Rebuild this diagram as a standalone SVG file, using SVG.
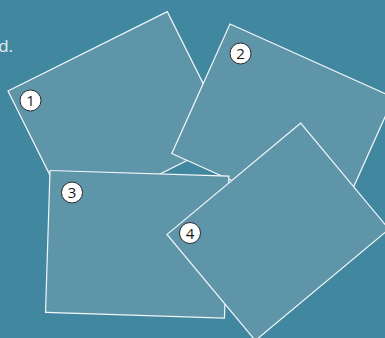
<svg xmlns="http://www.w3.org/2000/svg" width="385" height="338" viewBox="0 0 385 338">
<style>
.card{fill:#5f95a9;stroke:#f2f7f9;stroke-width:1.2}
.badge circle{fill:#ffffff;stroke:#2a2a2a;stroke-width:1}
.badge text{font-family:"Open Sans","DejaVu Sans",sans-serif;font-size:15px;fill:#1a1a1a;text-anchor:middle}
.caption{font-family:"Open Sans","DejaVu Sans",sans-serif;font-size:17px;fill:#e3edf1;text-anchor:end}
</style>
<rect width="385" height="338" fill="#40879f"/>
<text class="caption" x="13" y="52">d.</text>
<g id="card1">
  <rect class="card" x="0" y="0" width="178" height="142" transform="translate(8,91) rotate(-26.5)"/>
  <g class="badge"><circle cx="30.5" cy="100.5" r="10.5"/><text x="30.5" y="106">1</text></g>
</g>
<g id="card2">
  <rect class="card" x="0" y="0" width="179.5" height="142" transform="translate(230,24) rotate(24.2)"/>
  <g class="badge"><circle cx="240.5" cy="53.5" r="10.5"/><text x="240.5" y="59">2</text></g>
</g>
<g id="card3">
  <rect class="card" x="0" y="0" width="179" height="142" transform="translate(50,170.5) rotate(1.8)"/>
  <g class="badge"><circle cx="72" cy="192.5" r="10.5"/><text x="72" y="198">3</text></g>
</g>
<g id="card4">
  <rect class="card" x="0" y="0" width="174" height="138" transform="translate(167,234.5) rotate(-39.8)"/>
  <g class="badge"><circle cx="190" cy="233" r="10.5"/><text x="190" y="238.5">4</text></g>
</g>
<g id="connectors"></g>
</svg>
